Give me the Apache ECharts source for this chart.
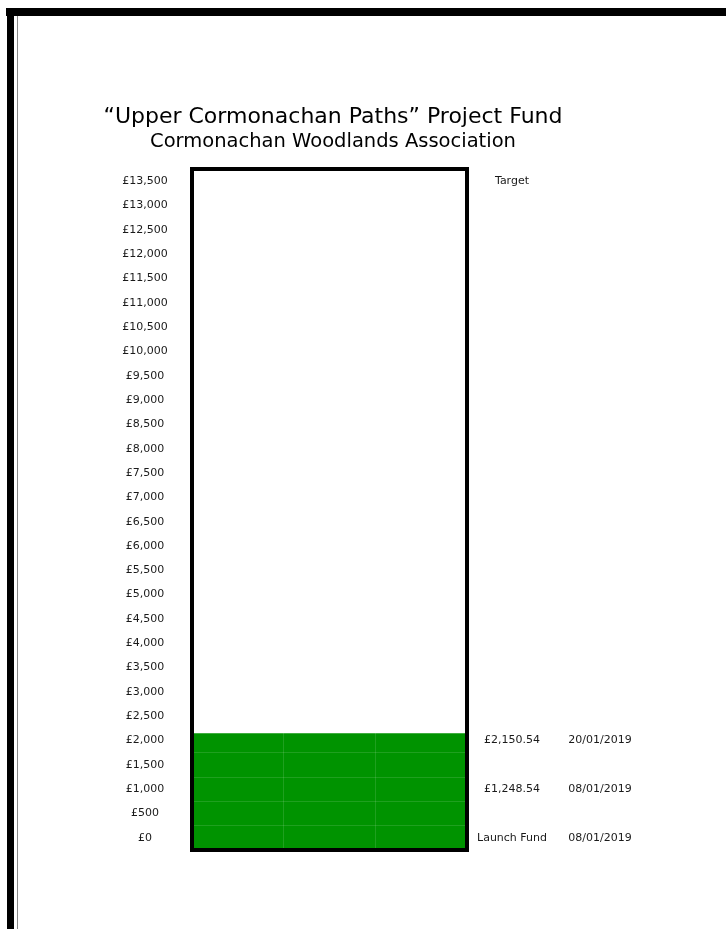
<!DOCTYPE html>
<html>
<head>
<meta charset="utf-8">
<script src="https://cdn.jsdelivr.net/npm/echarts@6/dist/echarts.min.js"></script>
<style>html,body{margin:0;padding:0;background:#fff}#c{width:726px;height:929px}</style>
</head>
<body>
<div id="c"></div>
<script>
// ---- data ----
const titleLine1 = '\u201CUpper Cormonachan Paths\u201D Project Fund';
const titleLine2 = 'Cormonachan Woodlands Association';
const tickLabels = ['£0','£500','£1,000','£1,500','£2,000','£2,500','£3,000','£3,500','£4,000','£4,500',
  '£5,000','£5,500','£6,000','£6,500','£7,000','£7,500','£8,000','£8,500','£9,000','£9,500',
  '£10,000','£10,500','£11,000','£11,500','£12,000','£12,500','£13,000','£13,500'];
const tickStep = 500;
const raisedTotal = 2150.54;
const milestoneValues = [0, 1248.54, 2150.54];
const milestoneNames = ['Launch Fund', '£1,248.54', '£2,150.54'];
const milestoneDates = ['08/01/2019', '08/01/2019', '20/01/2019'];
const targetValue = 13500;
const targetName = 'Target';

// ---- build label columns for the right-hand side ----
const amountCol = tickLabels.map(() => '');
const dateCol = tickLabels.map(() => '');
milestoneValues.forEach((v, i) => {
  const r = Math.floor(v / tickStep);
  amountCol[r] = milestoneNames[i];
  dateCol[r] = milestoneDates[i];
});
amountCol[Math.floor(targetValue / tickStep)] = targetName;

const FONT = 'DejaVu Sans';
const labelStyle = { fontFamily: FONT, fontSize: 11, color: '#1a1a1a' };
const hiddenAxis = { axisLine: { show: false }, axisTick: { show: false } };

const chart = echarts.init(document.getElementById('c'), null, { renderer: 'canvas' });
chart.setOption({
  backgroundColor: '#fff',
  animation: false,
  title: [
    { text: titleLine1, left: 328, top: 101, textAlign: 'center',
      textStyle: { fontFamily: FONT, fontSize: 22, fontWeight: 'normal', color: '#000' } },
    { text: titleLine2, left: 328, top: 127, textAlign: 'center',
      textStyle: { fontFamily: FONT, fontSize: 19.5, fontWeight: 'normal', color: '#000' } }
  ],
  grid: { left: 192, right: 259, top: 169, bottom: 79, show: true,
          borderColor: '#000', borderWidth: 4, z: 5 },
  xAxis: [
    { type: 'category', data: ['fund'], show: false },
    { type: 'category', data: ['a', 'b', 'c'], position: 'bottom', z: 3,
      ...hiddenAxis, axisLabel: { show: false },
      splitLine: { show: true, lineStyle: { color: 'rgba(255,255,255,0.12)', width: 1 } } }
  ],
  yAxis: [
    { type: 'category', data: tickLabels, position: 'left', z: 3, ...hiddenAxis,
      axisLabel: { ...labelStyle, align: 'center', margin: 47, interval: 0 },
      splitLine: { show: true, interval: 0, lineStyle: { color: 'rgba(255,255,255,0.12)', width: 1 } } },
    { type: 'category', data: amountCol, position: 'right', ...hiddenAxis,
      axisLabel: { ...labelStyle, align: 'center', margin: 45, interval: 0 } },
    { type: 'category', data: dateCol, position: 'right', ...hiddenAxis,
      axisLabel: { ...labelStyle, align: 'center', margin: 133, interval: 0 } },
    { type: 'value', min: -tickStep / 2, max: targetValue + tickStep / 2, startValue: -tickStep / 2,
      show: false, splitLine: { show: false } }
  ],
  series: [
    { type: 'bar', xAxisIndex: 0, yAxisIndex: 3, data: [raisedTotal], barWidth: '100%',
      itemStyle: { color: '#009300' }, z: 2 }
  ],
  graphic: [
    { type: 'rect', shape: { x: 6, y: 8, width: 720, height: 8 }, style: { fill: '#000' } },
    { type: 'rect', shape: { x: 7, y: 8, width: 7, height: 921 }, style: { fill: '#000' } },
    { type: 'rect', shape: { x: 17, y: 16, width: 1, height: 913 }, style: { fill: '#888' } }
  ]
});
</script>
</body>
</html>
